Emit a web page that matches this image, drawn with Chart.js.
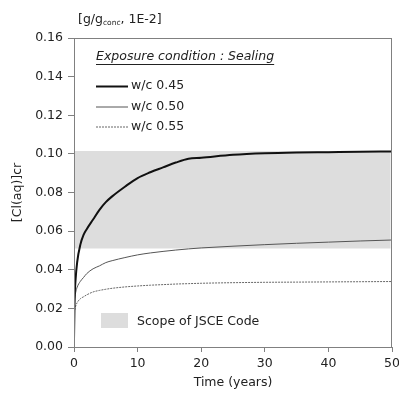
<!DOCTYPE html>
<html>
<head>
<meta charset="utf-8">
<script src="https://cdn.jsdelivr.net/npm/chart.js@4.4.1/dist/chart.umd.min.js"></script>
<style>
  html, body { margin: 0; padding: 0; background: #fff; }
  #wrap { width: 399px; height: 393px; position: relative; }
</style>
</head>
<body>
<div id="wrap"><canvas id="c" width="399" height="393"></canvas></div>
<script>
// ---------- data ----------
const years = [0, 0.1, 0.25, 0.5, 1, 1.5, 2, 3, 4, 5, 6, 8, 10, 12, 14, 16, 18, 20, 25, 30, 35, 40, 45, 50];
const wc045 = [0.004, 0.025, 0.035, 0.044, 0.053, 0.058, 0.061, 0.066, 0.071, 0.075, 0.078, 0.083, 0.0875, 0.0905, 0.093, 0.0955, 0.0975, 0.098, 0.0995, 0.1003, 0.1007, 0.1009, 0.1011, 0.1012];
const wc050 = [0.019, 0.024, 0.028, 0.031, 0.034, 0.036, 0.038, 0.0405, 0.042, 0.0437, 0.0447, 0.0463, 0.0477, 0.0487, 0.0495, 0.0502, 0.0508, 0.0513, 0.0522, 0.053, 0.0537, 0.0543, 0.0549, 0.0554];
const wc055 = [0.016, 0.019, 0.021, 0.023, 0.025, 0.026, 0.027, 0.0285, 0.0293, 0.0299, 0.0304, 0.0311, 0.0316, 0.032, 0.0323, 0.0326, 0.0328, 0.033, 0.0333, 0.0335, 0.0336, 0.0337, 0.0338, 0.0339];
const seriesLabels = ['w/c 0.45', 'w/c 0.50', 'w/c 0.55'];
const scopeYears = [0, 49.8];
const scopeUpper = 0.1015;
const scopeLower = 0.051;
const yTicks = [0, 0.02, 0.04, 0.06, 0.08, 0.10, 0.12, 0.14, 0.16];
const xTicks = [0, 10, 20, 30, 40, 50];

const FONT = 'DejaVu Sans, Verdana, sans-serif';
const AXIS = '#808080';

function pts(ys) { return years.map((t, i) => ({ x: t, y: ys[i] })); }

// ---------- extra drawing: frame, unit label, legend ----------
const decor = {
  id: 'decor',
  afterDraw(chart) {
    const { ctx, chartArea: a } = chart;
    ctx.save();
    // frame box
    ctx.strokeStyle = AXIS;
    ctx.lineWidth = 1;
    ctx.strokeRect(a.left + 0.5, a.top + 0.5, a.right - a.left - 1, a.bottom - a.top);

    ctx.fillStyle = '#222';
    ctx.textBaseline = 'middle';
    // unit label with subscript
    let x = 78;
    ctx.font = '12.5px ' + FONT;
    ctx.fillText('[g/g', x, 20);
    x += ctx.measureText('[g/g').width;
    ctx.font = '7.5px ' + FONT;
    ctx.fillText('conc', x, 23);
    x += ctx.measureText('conc').width;
    ctx.font = '12.5px ' + FONT;
    ctx.fillText(', 1E-2]', x, 20);

    // legend title, italic + underline
    ctx.font = 'italic 12.5px ' + FONT;
    const title = 'Exposure condition : Sealing';
    ctx.fillText(title, 96, 57);
    const tw = ctx.measureText(title).width;
    ctx.fillRect(96, 64, tw, 1);

    // series legend
    const ys = [86, 106.5, 126.5];
    chart.data.datasets.slice(0, 3).forEach((ds, i) => {
      ctx.strokeStyle = ds.borderColor;
      ctx.lineWidth = ds.borderWidth;
      ctx.setLineDash(ds.borderDash || []);
      ctx.beginPath();
      ctx.moveTo(96, ys[i] + 0.5);
      ctx.lineTo(128, ys[i] + 0.5);
      ctx.stroke();
      ctx.setLineDash([]);
      ctx.font = '12.5px ' + FONT;
      ctx.fillStyle = '#222';
      ctx.fillText(seriesLabels[i], 131, ys[i]);
    });

    // band legend
    ctx.fillStyle = '#dddddd';
    ctx.fillRect(101, 313, 27, 15);
    ctx.fillStyle = '#222';
    ctx.fillText('Scope of JSCE Code', 137, 321.5);
    ctx.restore();
  }
};

new Chart(document.getElementById('c'), {
  type: 'line',
  data: {
    datasets: [
      { label: seriesLabels[0], data: pts(wc045), borderColor: '#111', borderWidth: 2, pointRadius: 0, cubicInterpolationMode: 'monotone', fill: false, order: 1 },
      { label: seriesLabels[1], data: pts(wc050), borderColor: '#555', borderWidth: 1, pointRadius: 0, cubicInterpolationMode: 'monotone', fill: false, order: 2 },
      { label: seriesLabels[2], data: pts(wc055), borderColor: '#666', borderWidth: 1, borderDash: [2, 1], pointRadius: 0, cubicInterpolationMode: 'monotone', fill: false, order: 3 },
      { label: 'scope top', data: scopeYears.map(t => ({ x: t, y: scopeUpper })), borderWidth: 0, borderColor: 'rgba(0,0,0,0)', backgroundColor: '#dddddd', pointRadius: 0, fill: '+1', order: 10 },
      { label: 'scope bottom', data: scopeYears.map(t => ({ x: t, y: scopeLower })), borderWidth: 0, borderColor: 'rgba(0,0,0,0)', pointRadius: 0, fill: false, order: 11 }
    ]
  },
  options: {
    responsive: false,
    animation: false,
    layout: { padding: { left: 0, top: 38, right: 7, bottom: 0 } },
    plugins: { legend: { display: false }, tooltip: { enabled: false } },
    scales: {
      x: {
        type: 'linear', min: 0, max: 50,
        afterBuildTicks(s) { s.ticks = xTicks.map(v => ({ value: v })); },
        afterFit(s) { s.height = 46; s.paddingLeft = 0; s.paddingRight = 0; },
        ticks: { font: { family: FONT, size: 12.5 }, color: '#222', padding: 4, maxRotation: 0 },
        grid: { drawOnChartArea: false, drawTicks: true, tickLength: 5, color: AXIS },
        border: { color: AXIS },
        title: { display: true, text: 'Time (years)', font: { family: FONT, size: 12.5 }, color: '#222', padding: { top: 0, bottom: 3 } }
      },
      y: {
        type: 'linear', min: 0, max: 0.16,
        afterBuildTicks(s) { s.ticks = yTicks.map(v => ({ value: v })); },
        afterFit(s) { s.width = 74; s.paddingTop = 0; s.paddingBottom = 0; },
        ticks: { font: { family: FONT, size: 12.5 }, color: '#222', padding: 5, callback: v => v.toFixed(2) },
        grid: { drawOnChartArea: false, drawTicks: true, tickLength: 6, color: AXIS },
        border: { color: AXIS },
        title: { display: true, text: '[Cl(aq)]cr', font: { family: FONT, size: 12.5 }, color: '#222', padding: { top: 10, bottom: 0 } }
      }
    }
  },
  plugins: [decor]
});
</script>
</body>
</html>
